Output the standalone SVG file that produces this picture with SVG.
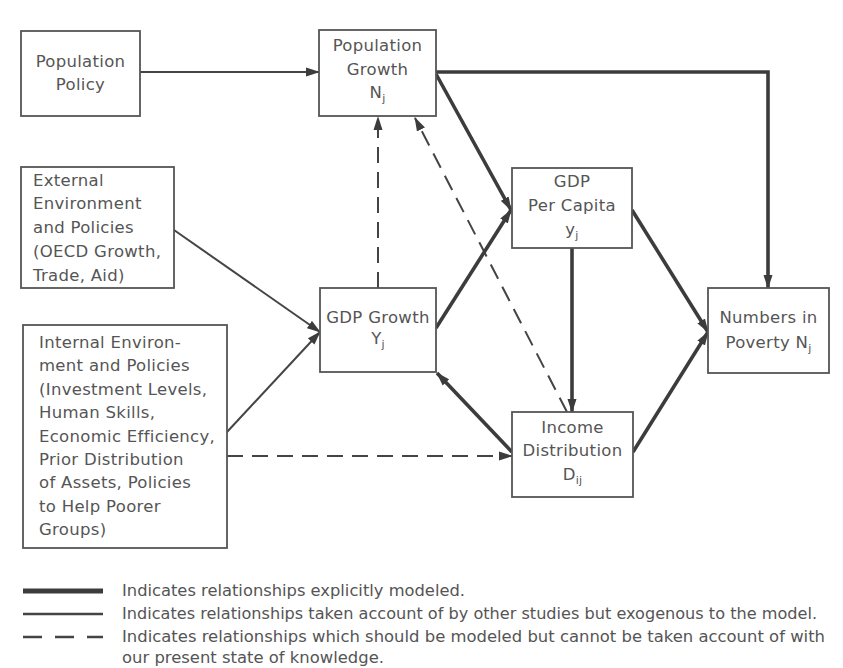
<svg xmlns="http://www.w3.org/2000/svg" width="843" height="668" viewBox="0 0 843 668">
<defs>
<style>
.box{fill:#fff;stroke:#555;stroke-width:1.8}
.t{font-family:"DejaVu Sans",sans-serif;font-size:16.5px;fill:#555;letter-spacing:0.3px}
.c{text-anchor:middle}
.sub{font-size:11px}
.lg{font-family:"DejaVu Sans",sans-serif;font-size:15px;fill:#555}
.thin{fill:none;stroke:#444;stroke-width:2}
.thick{fill:none;stroke:#3c3c3c;stroke-width:3.6}
.dash{fill:none;stroke:#444;stroke-width:2;stroke-dasharray:16 9}
</style>
<marker id="ah" markerUnits="userSpaceOnUse" markerWidth="14" markerHeight="10" refX="13" refY="5" orient="auto">
<path d="M0,0.5 L14,5 L0,9.5 z" fill="#3c3c3c"/>
</marker>
</defs>
<rect width="843" height="668" fill="#fff"/>

<g id="connectors">
<path class="thin" d="M140,72 L319,72" marker-end="url(#ah)"/>
<path class="thin" d="M174,230 L320,332" marker-end="url(#ah)"/>
<path class="thin" d="M227,432 L320,332" marker-end="url(#ah)"/>
<path class="dash" d="M227,456 L512,456" marker-end="url(#ah)"/>
<path class="dash" d="M378,288 L378,117" marker-end="url(#ah)"/>
<path class="dash" d="M567,412 L415,118" marker-end="url(#ah)"/>
<path class="thick" d="M436,74 L511,210" marker-end="url(#ah)"/>
<path class="thick" d="M436,328 L511,210" marker-end="url(#ah)"/>
<path class="thick" d="M512,452 L437,373" marker-end="url(#ah)"/>
<path class="thick" d="M436,72 L768,72 L768,288" marker-end="url(#ah)"/>
<path class="thick" d="M572,248 L572,412" marker-end="url(#ah)"/>
<path class="thick" d="M632,210 L708,332" marker-end="url(#ah)"/>
<path class="thick" d="M633,452 L708,332" marker-end="url(#ah)"/>
</g>

<g id="population-policy">
<rect class="box" x="21" y="31" width="119" height="85"/>
<text class="t c" x="80.5" y="67">Population</text>
<text class="t c" x="80.5" y="90">Policy</text>
</g>

<g id="population-growth">
<rect class="box" x="319" y="30" width="117" height="86"/>
<text class="t c" x="377.5" y="51">Population</text>
<text class="t c" x="377.5" y="75">Growth</text>
<text class="t c" x="377.5" y="98">N<tspan class="sub" dy="4">j</tspan></text>
</g>

<g id="external-environment">
<rect class="box" x="21" y="167" width="153" height="121"/>
<text class="t" x="33" y="186">External</text>
<text class="t" x="33" y="209">Environment</text>
<text class="t" x="33" y="233">and Policies</text>
<text class="t" x="33" y="257">(OECD Growth,</text>
<text class="t" x="33" y="281">Trade, Aid)</text>
</g>

<g id="internal-environment">
<rect class="box" x="23" y="325" width="204" height="223"/>
<text class="t" x="39" y="348">Internal Environ-</text>
<text class="t" x="39" y="371.4">ment and Policies</text>
<text class="t" x="39" y="394.8">(Investment Levels,</text>
<text class="t" x="39" y="418.2">Human Skills,</text>
<text class="t" x="39" y="441.6">Economic Efficiency,</text>
<text class="t" x="39" y="465">Prior Distribution</text>
<text class="t" x="39" y="488.4">of Assets, Policies</text>
<text class="t" x="39" y="511.8">to Help Poorer</text>
<text class="t" x="39" y="535.2">Groups)</text>
</g>

<g id="gdp-growth">
<rect class="box" x="320" y="288" width="116" height="84"/>
<text class="t c" x="378" y="323">GDP Growth</text>
<text class="t c" x="378" y="344">Y<tspan class="sub" dy="4">j</tspan></text>
</g>

<g id="gdp-per-capita">
<rect class="box" x="512" y="168" width="120" height="80"/>
<text class="t c" x="572" y="187">GDP</text>
<text class="t c" x="572" y="211">Per Capita</text>
<text class="t c" x="572" y="235">y<tspan class="sub" dy="4">j</tspan></text>
</g>

<g id="income-distribution">
<rect class="box" x="512" y="412" width="121" height="85"/>
<text class="t c" x="572.5" y="433">Income</text>
<text class="t c" x="572.5" y="456">Distribution</text>
<text class="t c" x="572.5" y="480">D<tspan class="sub" dy="4">ij</tspan></text>
</g>

<g id="numbers-in-poverty">
<rect class="box" x="708" y="288" width="121" height="85"/>
<text class="t c" x="768.5" y="323">Numbers in</text>
<text class="t c" x="768.5" y="348">Poverty N<tspan class="sub" dy="4">j</tspan></text>
</g>

<g id="legend">
<path d="M23,591 L103,591" fill="none" stroke="#3c3c3c" stroke-width="5"/>
<path d="M23,614 L103,614" fill="none" stroke="#444" stroke-width="2.5"/>
<path d="M23,637 L103,637" fill="none" stroke="#444" stroke-width="2.5" stroke-dasharray="19 13"/>
<text class="lg" x="122" y="596" textLength="343" lengthAdjust="spacingAndGlyphs">Indicates relationships explicitly modeled.</text>
<text class="lg" x="122" y="619" textLength="695" lengthAdjust="spacingAndGlyphs">Indicates relationships taken account of by other studies but exogenous to the model.</text>
<text class="lg" x="122" y="642" textLength="703" lengthAdjust="spacingAndGlyphs">Indicates relationships which should be modeled but cannot be taken account of with</text>
<text class="lg" x="122" y="663" textLength="262" lengthAdjust="spacingAndGlyphs">our present state of knowledge.</text>
</g>
</svg>
